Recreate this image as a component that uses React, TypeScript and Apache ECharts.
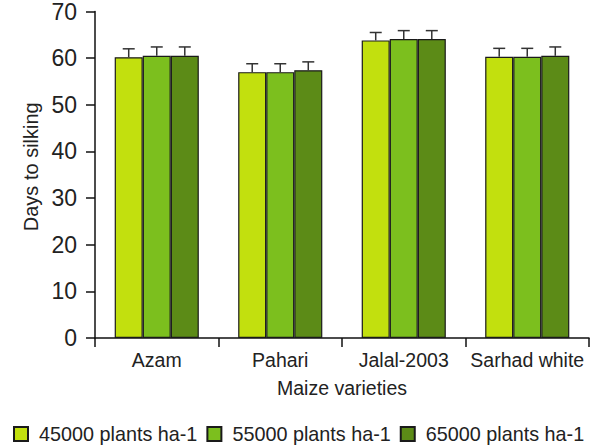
import React, { useEffect, useRef } from "react";
import * as echarts from "echarts";

const categories = ["Azam", "Pahari", "Jalal-2003", "Sarhad white"];
const seriesNames = ["45000 plants ha-1", "55000 plants ha-1", "65000 plants ha-1"];
const values45 = [60.2, 57.0, 63.8, 60.3];
const values55 = [60.5, 57.0, 64.1, 60.3];
const values65 = [60.5, 57.4, 64.1, 60.5];
const errors45 = [1.8, 1.8, 1.7, 1.8];
const errors55 = [1.9, 1.8, 1.8, 1.8];
const errors65 = [1.9, 1.8, 1.8, 1.9];
const yTicks = [0, 10, 20, 30, 40, 50, 60, 70];

const colors = ["#c2e00e", "#7cbf1e", "#5c8b17"];
const FONT = "'Liberation Sans', Arial, sans-serif";
const BAR_FRAC = 0.227;

export default function App() {
  const ref = useRef<HTMLDivElement>(null);
  useEffect(() => {
    document.body.style.margin = "0";
    const chart = echarts.init(ref.current!, null, { renderer: "svg" });
    const allValues = [values45, values55, values65];
    const allErrors = [errors45, errors55, errors65];

    const barSeries = seriesNames.map((name, i) => ({
      name,
      type: "bar",
      data: allValues[i],
      barWidth: BAR_FRAC * 100 + "%",
      barGap: "0%",
      itemStyle: { color: colors[i], borderColor: "#1a1a1a", borderWidth: 1.2 },
      z: 2,
    }));

    const errSeries = seriesNames.map((name, i) => ({
      type: "custom",
      name: name + " err",
      data: allValues[i].map((v, k) => [k, v, allErrors[i][k]]),
      z: 3,
      renderItem: (params: any, api: any) => {
        const k = api.value(0);
        const v = api.value(1);
        const e = api.value(2);
        const band = api.size([1, 0])[0];
        const off = (i - 1) * band * BAR_FRAC;
        const p0 = api.coord([k, v]);
        const p1 = api.coord([k, v + e]);
        const x = p0[0] + off;
        const cap = 6;
        const style = { stroke: "#333", lineWidth: 1.5 };
        return {
          type: "group",
          children: [
            { type: "line", shape: { x1: x, y1: p0[1], x2: x, y2: p1[1] }, style },
            { type: "line", shape: { x1: x - cap, y1: p1[1], x2: x + cap, y2: p1[1] }, style },
          ],
        };
      },
    }));

    chart.setOption({
      animation: false,
      backgroundColor: "#ffffff",
      textStyle: { fontFamily: FONT },
      grid: { left: 95, right: 1, top: 10, bottom: 109, containLabel: false },
      legend: {
        data: seriesNames,
        left: 8,
        top: 419,
        itemWidth: 14,
        itemHeight: 14,
        itemGap: 9,
        icon: "rect",
        formatter: "{a|{name}}",
        textStyle: {
          fontSize: 19.8,
          color: "#222",
          fontFamily: FONT,
          rich: { a: { fontSize: 19.8, color: "#222", fontFamily: FONT, padding: [0, 0, 0, 6] } },
        },
      },
      xAxis: {
        type: "category",
        data: categories,
        name: "Maize varieties",
        nameLocation: "middle",
        nameGap: 40,
        nameTextStyle: { fontSize: 19.5, color: "#222", fontFamily: FONT },
        axisLine: { lineStyle: { color: "#111", width: 1.5 } },
        axisTick: { show: true, length: 9, lineStyle: { color: "#111", width: 1.5 } },
        axisLabel: { fontSize: 19.5, color: "#222", margin: 12, fontFamily: FONT, interval: 0 },
      },
      yAxis: {
        type: "value",
        min: yTicks[0],
        max: yTicks[yTicks.length - 1],
        interval: 10,
        name: "Days to silking",
        nameLocation: "middle",
        nameGap: 52,
        nameRotate: 90,
        nameTextStyle: { fontSize: 20, color: "#222", fontFamily: FONT, padding: [0, 0, 0, 16] },
        axisLine: { show: true, lineStyle: { color: "#111", width: 1.5 } },
        axisTick: { show: true, length: 9, lineStyle: { color: "#111", width: 1.5 } },
        splitLine: { show: false },
        axisLabel: { fontSize: 23, color: "#222", margin: 18, fontFamily: FONT },
      },
      series: [...barSeries, ...errSeries],
    });
    return () => chart.dispose();
  }, []);
  return <div ref={ref} style={{ width: 590, height: 447 }} />;
}
